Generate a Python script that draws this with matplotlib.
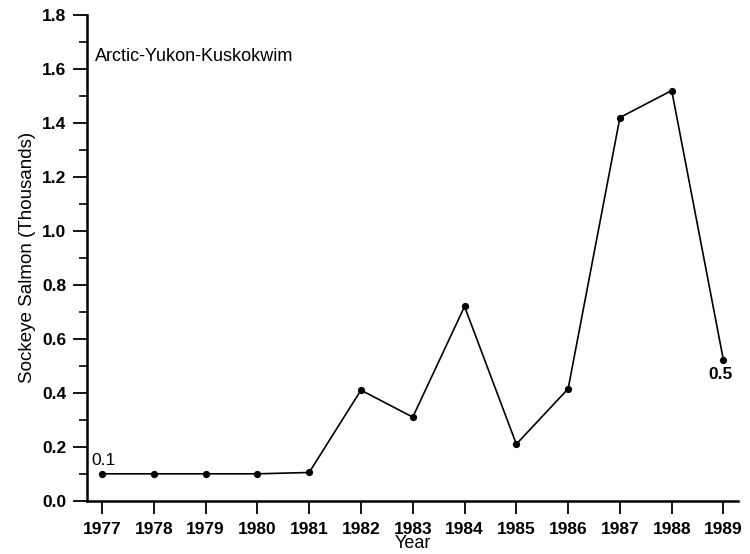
import numpy as np
import matplotlib
matplotlib.use('Agg')
import matplotlib.pyplot as plt
from matplotlib.ticker import MultipleLocator

years = [1977, 1978, 1979, 1980, 1981, 1982, 1983, 1984, 1985, 1986, 1987, 1988, 1989]
catch = [0.10, 0.10, 0.10, 0.10, 0.105, 0.41, 0.31, 0.72, 0.21, 0.415, 1.42, 1.52, 0.52]
region = 'Arctic-Yukon-Kuskokwim'

plt.rcParams['font.family'] = ['Liberation Sans', 'DejaVu Sans']

fig = plt.figure(figsize=(7.5, 5.54), dpi=100)
ax = fig.add_axes([0.116, 0.096, 0.868, 0.877])

ax.plot(years, catch, color='black', lw=1.2, marker='o', ms=4.2, clip_on=False)

ax.set_xlim(1976.71, 1989.28)
ax.set_ylim(0, 1.8)
ax.set_xticks(years)
ax.set_xticklabels([str(y) for y in years], fontsize=12.5, fontweight='bold')
ax.yaxis.set_minor_locator(MultipleLocator(0.1))
ax.set_yticks(np.arange(0, 1.81, 0.2))
ax.set_yticklabels(['%.1f' % v for v in np.arange(0, 1.81, 0.2)], fontsize=12.5, fontweight='bold')

ax.tick_params(axis='y', which='major', direction='out', length=10, width=1.3, pad=5)
ax.tick_params(axis='y', which='minor', direction='out', length=6, width=1.2)
ax.tick_params(axis='x', which='major', direction='out', length=9, width=1.3, pad=6)

for s in ['top', 'right']:
    ax.spines[s].set_visible(False)
for s in ['left', 'bottom']:
    ax.spines[s].set_linewidth(1.8)

ax.set_xlabel('Year', fontsize=13, labelpad=-1)
ax.set_ylabel('Sockeye Salmon (Thousands)', fontsize=13.5, labelpad=4)

ax.text(0.012, 0.915, region, transform=ax.transAxes, fontsize=13, ha='left', va='center')

# first and last value labels
ax.annotate('%.1f' % catch[0], (years[0], catch[0]), xytext=(-8, 4), textcoords='offset points',
            fontsize=12.5, ha='left', va='bottom')
ax.annotate('%.1f' % catch[-1], (years[-1], catch[-1]), xytext=(-2, -5), textcoords='offset points',
            fontsize=12.5, fontweight='bold', ha='center', va='top')

fig.savefig('out.png', dpi=100)
